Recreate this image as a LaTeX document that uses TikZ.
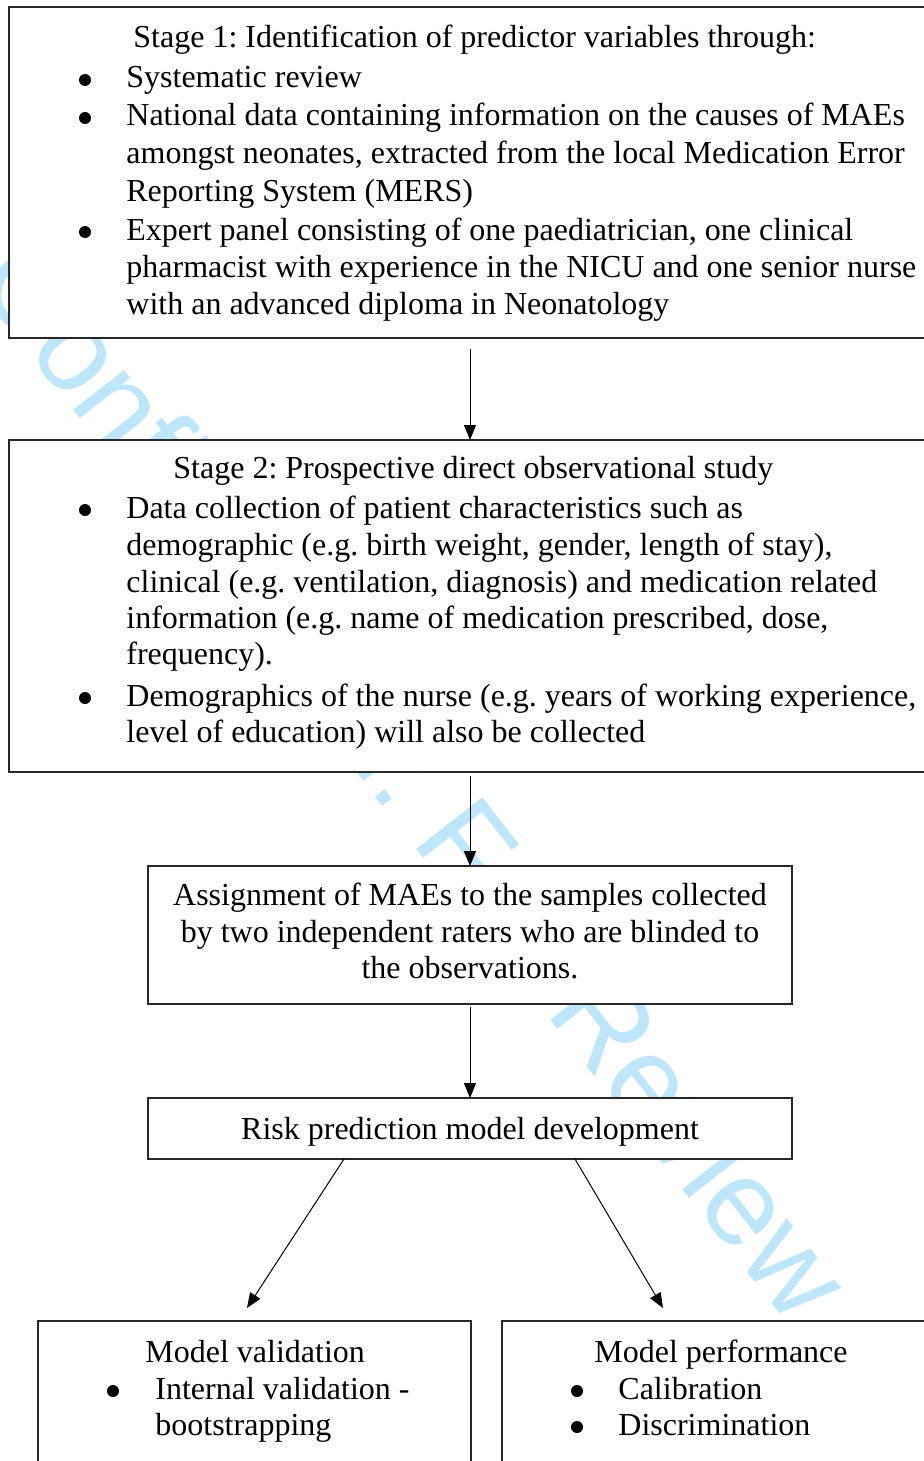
\documentclass[tikz,border=0pt]{standalone}
\usepackage{fontspec}
\setmainfont{Liberation Serif}
\newfontfamily\wmfont{Liberation Sans}
\usetikzlibrary{arrows.meta,calc}
\definecolor{wm}{RGB}{190,230,250}
\definecolor{boxline}{RGB}{40,40,40}
\frenchspacing
\begin{document}
\begin{tikzpicture}[x=0.5pt,y=-0.5pt,
  box/.style={draw=boxline, line width=0.8pt, fill=white, rectangle, inner sep=0pt, outer sep=0pt, anchor=north west},
  txt/.style={anchor=base west, inner sep=0pt, font=\fontsize{16pt}{18.5pt}\selectfont},
  ctxt/.style={txt, anchor=base},
  bul/.style={circle, fill=black, draw=none, minimum size=6pt, inner sep=0pt, yshift=4pt},
  arr/.style={-{Triangle[length=7.5pt,width=6pt]}, line width=0.5pt, black}]
\path[use as bounding box] (0,0) rectangle (924,1461);
\clip (0,0) rectangle (924,1461);
\fill[white] (0,0) rectangle (924,1461);
% watermark
\node[rotate=-52, text=wm, font=\wmfont\fontsize{61pt}{61pt}\selectfont, inner sep=0pt] (wmk) at (494,897) {Confidential: For Review Only};
% boxes
\node[box, minimum width=465.5pt, minimum height=165.5pt] (b1) at (9,7) {};
\node[box, minimum width=465.5pt, minimum height=166pt] (b2) at (9,440) {};
\node[box, minimum width=322pt, minimum height=69pt] (b3) at (148,866) {};
\node[box, minimum width=322pt, minimum height=30.5pt] (b4) at (148,1098) {};
\node[box, minimum width=216.5pt, minimum height=80pt] (b5) at (38,1321) {};
\node[box, minimum width=219pt, minimum height=80pt] (b6) at (502,1321) {};
% box 1 text
\node[txt] (s1) at (133,48) {Stage 1: Identification of predictor variables through:};
\node[bul] (s1b1) at (85,88) {};
\node[txt] (s1l1) at (126,88) {Systematic review};
\node[bul] (s1b2) at (85,126) {};
\node[txt] (s1l2) at (126,126) {National data containing information on the causes of MAEs};
\node[txt] (s1l3) at (126,163) {amongst neonates, extracted from the local Medication Error};
\node[txt] (s1l4) at (126,201) {Reporting System (MERS)};
\node[bul] (s1b3) at (85,240) {};
\node[txt] (s1l5) at (126,240) {Expert panel consisting of one paediatrician, one clinical};
\node[txt] (s1l6) at (126,277) {pharmacist with experience in the NICU and one senior nurse};
\node[txt] (s1l7) at (126,314) {with an advanced diploma in Neonatology};
% box 2 text
\node[txt] (s2) at (173,478) {Stage 2: Prospective direct observational study};
\node[bul] (s2b1) at (85,518) {};
\node[txt] (s2l1) at (126,518) {Data collection of patient characteristics such as};
\node[txt] (s2l2) at (126,555) {demographic (e.g. birth weight, gender, length of stay),};
\node[txt] (s2l3) at (126,592) {clinical (e.g. ventilation, diagnosis) and medication related};
\node[txt] (s2l4) at (126,628) {information (e.g. name of medication prescribed, dose,};
\node[txt] (s2l5) at (126,664) {frequency).};
\node[bul] (s2b2) at (85,706) {};
\node[txt] (s2l6) at (126,706) {Demographics of the nurse (e.g. years of working experience,};
\node[txt] (s2l7) at (126,742) {level of education) will also be collected};
% box 3 text
\node[ctxt] (s3l1) at (470,905) {Assignment of MAEs to the samples collected};
\node[ctxt] (s3l2) at (470,942) {by two independent raters who are blinded to};
\node[ctxt] (s3l3) at (470,978) {the observations.};
% box 4 text
\node[ctxt] (s4) at (470,1139) {Risk prediction model development};
% box 5 text
\node[txt] (s5) at (145,1362) {Model validation};
\node[bul] (s5b1) at (113,1399) {};
\node[txt] (s5l1) at (155,1399) {Internal validation -};
\node[txt] (s5l2) at (155,1435) {bootstrapping};
% box 6 text
\node[txt] (s6) at (594,1362) {Model performance};
\node[bul] (s6b1) at (577,1399) {};
\node[txt] (s6l1) at (618,1399) {Calibration};
\node[bul] (s6b2) at (577,1435) {};
\node[txt] (s6l2) at (618,1435) {Discrimination};
% arrows
\draw[arr, shorten <=5.5pt] (b1.south -| b3.north) -- (b2.north -| b3.north);
\draw[arr, shorten <=2pt] (b2.south -| b3.north) -- (b3.north);
\draw[arr, shorten <=1.5pt] (b3.south) -- (b4.north);
\draw[arr] ([xshift=-63pt]b4.south) -- ([xshift=-3.75pt,yshift=6.5pt]b5.north);
\draw[arr] ([xshift=52.5pt]b4.south) -- ([xshift=-29pt,yshift=6.5pt]b6.north);
\end{tikzpicture}
\end{document}
